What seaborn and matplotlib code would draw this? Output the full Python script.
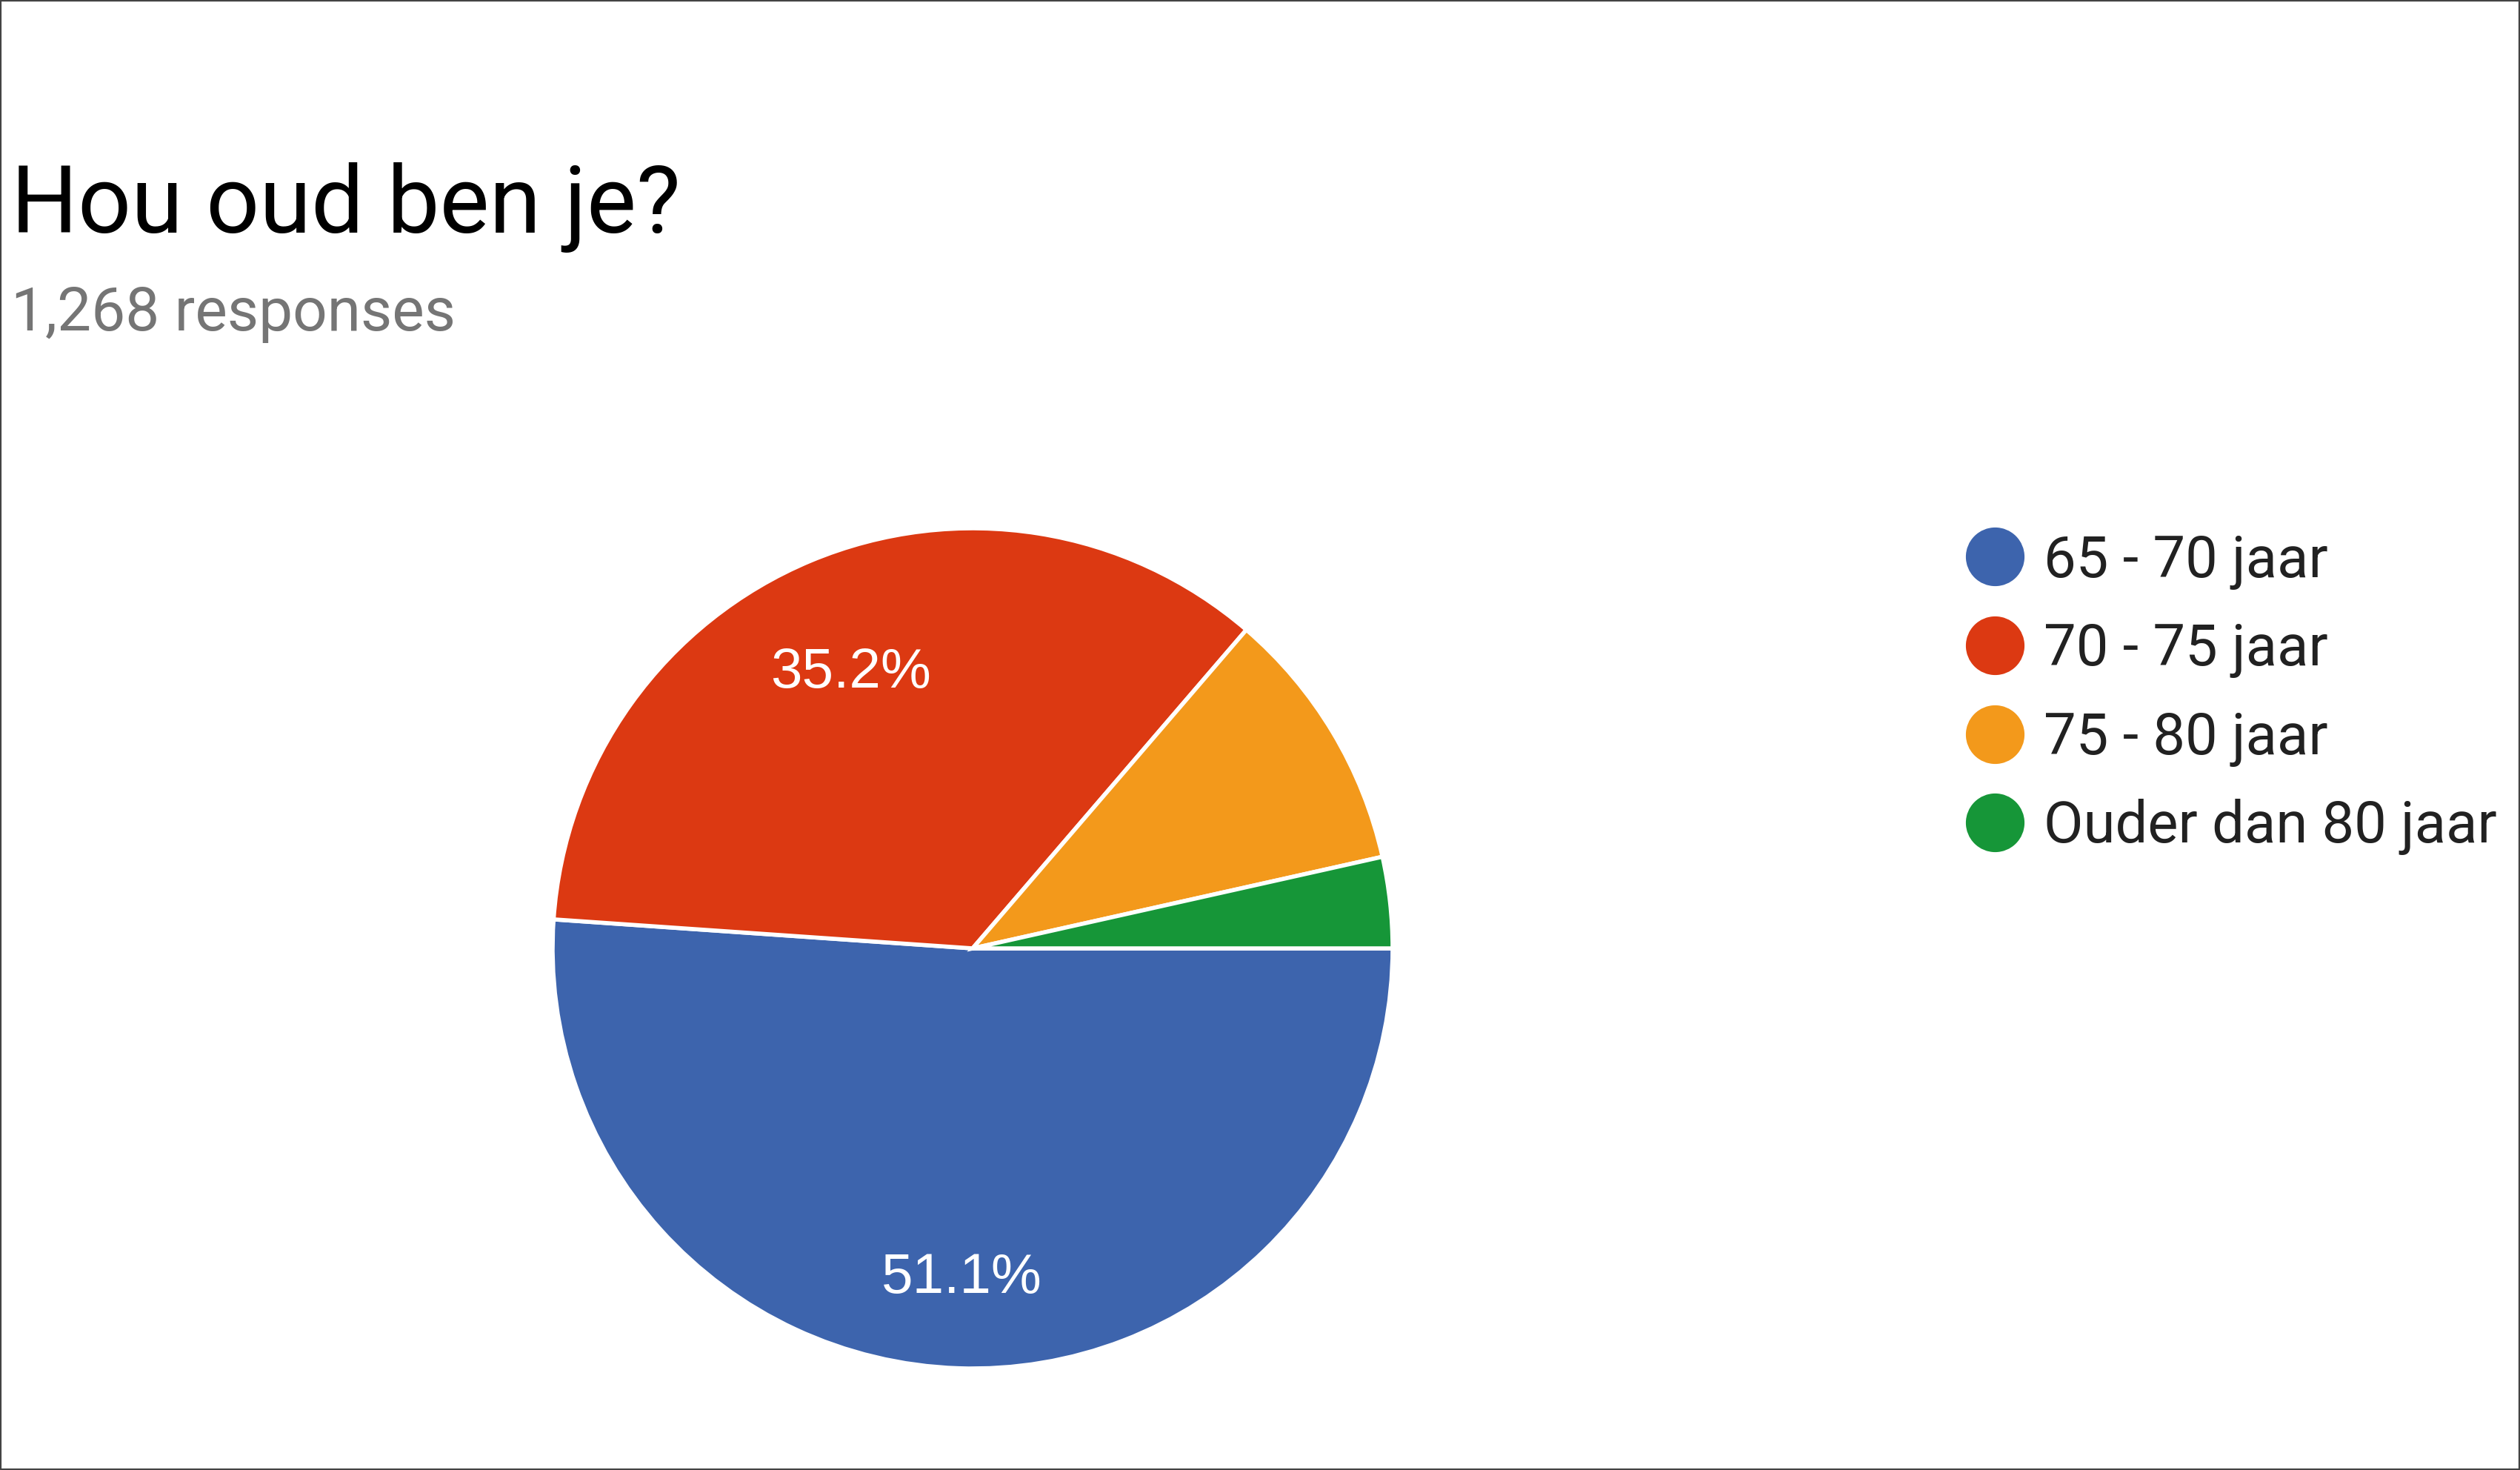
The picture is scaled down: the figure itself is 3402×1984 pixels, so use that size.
import matplotlib
matplotlib.use("Agg")
import matplotlib.pyplot as plt
import matplotlib.transforms as mtransforms
import seaborn as sns
from matplotlib.lines import Line2D
from matplotlib.patches import Rectangle

# ---- data ----
categories = ["65 - 70 jaar", "70 - 75 jaar", "75 - 80 jaar", "Ouder dan 80 jaar"]
shares = [51.1, 35.2, 10.2, 3.5]
colors = ["#3d64ad", "#dc3912", "#f3991b", "#169638"]
title = "Hou oud ben je?"
subtitle = "1,268 responses"

sns.set_theme(style="white")
plt.rcParams["font.family"] = ["Roboto", "DejaVu Sans"]
palette = sns.color_palette(colors)

W, H = 3402, 1984
fig = plt.figure(figsize=(W / 100, H / 100), dpi=100)
fig.patch.set_facecolor("white")

# pie axes
cx, cy, r = 1313, 1280, 567
lim = 1.03
size = 2 * r * lim
ax = fig.add_axes([(cx - size / 2) / W, (H - cy - size / 2) / H, size / W, size / H])

def fmt(p):
    return f"{p:.1f}%" if p >= 15 else ""

wedges, texts, autotexts = ax.pie(
    shares,
    colors=palette,
    startangle=0,
    counterclock=False,
    autopct=fmt,
    pctdistance=0.75,
    wedgeprops=dict(edgecolor="white", linewidth=4),
    textprops=dict(color="white", fontsize=55, family=["Liberation Sans", "DejaVu Sans"]),
)
for t in autotexts:
    t.set_transform(mtransforms.offset_copy(t.get_transform(), fig=fig, y=-21, units="dots"))
ax.set_xlim(-lim, lim)
ax.set_ylim(-lim, lim)
ax.set_aspect("equal")
ax.axis("off")

# titles
fig.text(15 / W, 1 - 314 / H, title, fontsize=91, color="#000000",
         ha="left", va="baseline", family=["Roboto", "DejaVu Sans"])
fig.text(15 / W, 1 - 446 / H, subtitle, fontsize=59, color="#757575",
         ha="left", va="baseline", family=["Roboto", "DejaVu Sans"])

# legend
handles = [Line2D([0], [0], marker="o", linestyle="none", markersize=56,
                  markerfacecolor=c, markeredgecolor=c) for c in palette]
leg = fig.legend(handles, categories, loc="center left",
                 bbox_to_anchor=(2654 / W, 1 - 937 / H),
                 frameon=False, fontsize=56, labelspacing=0.56,
                 handlelength=1.0, handletextpad=0.35, borderpad=0, borderaxespad=0)
for t in leg.get_texts():
    t.set_color("#212121")

# outer border
fig.patches.append(Rectangle((0, 0), 1, 1, transform=fig.transFigure,
                             fill=False, edgecolor="#444444", linewidth=3))

fig.savefig("out.png", dpi=100, facecolor="white")
